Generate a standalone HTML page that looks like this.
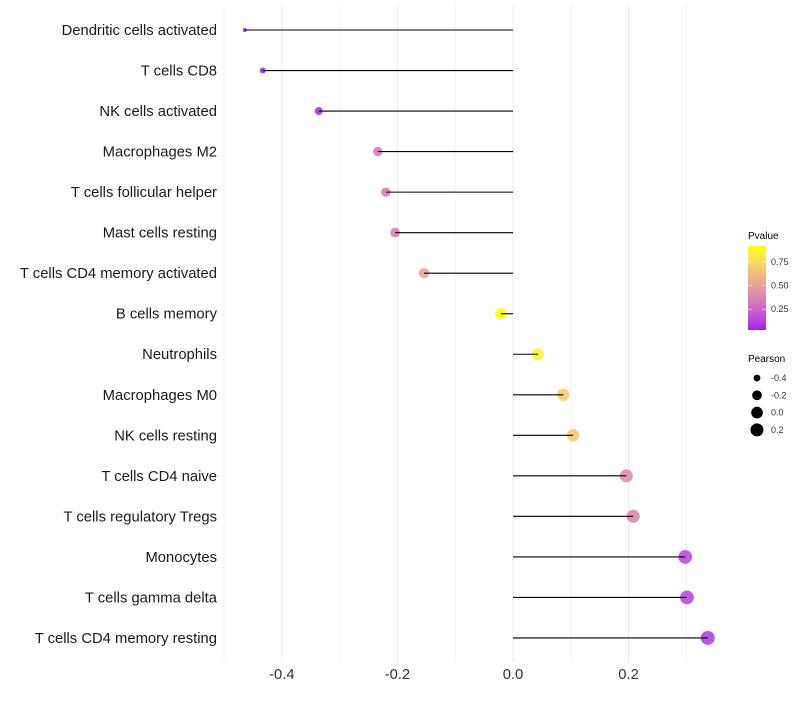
<!DOCTYPE html>
<html><head><meta charset="utf-8"><style>
body{margin:0;background:#fff;}
svg text{font-family:"Liberation Sans",sans-serif;}
</style></head><body>
<svg id="chart" width="800" height="700"></svg>
<script>
const categories=["Dendritic cells activated","T cells CD8","NK cells activated","Macrophages M2","T cells follicular helper","Mast cells resting","T cells CD4 memory activated","B cells memory","Neutrophils","Macrophages M0","NK cells resting","T cells CD4 naive","T cells regulatory  Tregs ","Monocytes","T cells gamma delta","T cells CD4 memory resting"];
const pearson=[-0.464,-0.433,-0.336,-0.234,-0.220,-0.204,-0.154,-0.021,0.043,0.087,0.104,0.196,0.208,0.298,0.301,0.337];
const pvalue=[0.03,0.05,0.08,0.35,0.36,0.36,0.52,0.92,0.86,0.70,0.68,0.42,0.40,0.16,0.15,0.12];
const xTicks=[-0.4,-0.2,0.0,0.2];
const xMinor=[-0.5,-0.3,-0.1,0.1,0.3];
const pTicks=[0.25,0.50,0.75];
const sizeLegend=[-0.4,-0.2,0.0,0.2];

const NS="http://www.w3.org/2000/svg";
const svg=document.getElementById('chart');
function mk(t,a,p){const e=document.createElementNS(NS,t);for(const k in a)e.setAttribute(k,a[k]);(p||svg).appendChild(e);return e;}
const x=v=>513+v*578;
const y=i=>30+i*40.53;
const rMin=Math.min(...pearson),rMax=Math.max(...pearson);
const rad=v=>2+5*Math.sqrt(Math.max(0,Math.min(1,(v-rMin)/(rMax-rMin))));
const pMin=Math.min(...pvalue),pMax=Math.max(...pvalue);
function toLab(r,g,b){[r,g,b]=[r,g,b].map(c=>{c/=255;return c<=0.04045?c/12.92:Math.pow((c+0.055)/1.055,2.4)});
let X=(r*0.4124+g*0.3576+b*0.1805)/0.95047,Y=r*0.2126+g*0.7152+b*0.0722,Z=(r*0.0193+g*0.1192+b*0.9505)/1.08883;
const f=t=>t>0.008856?Math.cbrt(t):7.787*t+16/116;return[116*f(Y)-16,500*(f(X)-f(Y)),200*(f(Y)-f(Z))];}
function fromLab(L,a,b){let Y=(L+16)/116,X=a/500+Y,Z=Y-b/200;const g=t=>t*t*t>0.008856?t*t*t:(t-16/116)/7.787;
X=g(X)*0.95047;Y=g(Y);Z=g(Z)*1.08883;let r=X*3.2406+Y*-1.5372+Z*-0.4986,gg=X*-0.9689+Y*1.8758+Z*0.0415,bb=X*0.0557+Y*-0.2040+Z*1.0570;
return 'rgb('+[r,gg,bb].map(c=>{c=c>0.0031308?1.055*Math.pow(c,1/2.4)-0.055:12.92*c;return Math.round(Math.max(0,Math.min(1,c))*255)}).join(',')+')';}
const lo=toLab(160,32,240),hi=toLab(255,255,0);
const col=p=>{const t=(p-pMin)/(pMax-pMin);return fromLab(lo[0]+(hi[0]-lo[0])*t,lo[1]+(hi[1]-lo[1])*t,lo[2]+(hi[2]-lo[2])*t);};

xMinor.forEach(v=>{const l=mk('line',{x1:x(v),x2:x(v),y1:5,y2:662,stroke:'#f2f2f2','stroke-width':1});});
xTicks.forEach(v=>{const l=mk('line',{x1:x(v),x2:x(v),y1:5,y2:662,stroke:'#ebebeb','stroke-width':1});
const t=mk('text',{x:x(v),y:679,'text-anchor':'middle','font-size':14.8,fill:'#333'});t.textContent=v.toFixed(1);});

categories.forEach((c,i)=>{
const t=mk('text',{x:217,y:y(i)+5,'text-anchor':'end','font-size':14.8,fill:'#1a1a1a'});t.textContent=c;
const d=mk('circle',{cx:x(pearson[i]),cy:y(i),r:rad(pearson[i]),fill:col(pvalue[i]),opacity:0.9});
const s=mk('line',{x1:x(0),x2:x(pearson[i]),y1:y(i),y2:y(i),stroke:'#000','stroke-width':1.1});
});

const lt=mk('text',{x:748,y:239,'font-size':10,fill:'#000'});lt.textContent='Pvalue';
const defs=mk('defs',{});const gr=mk('linearGradient',{id:'pg',x1:0,y1:1,x2:0,y2:0},defs);
for(let k=0;k<=10;k++){mk('stop',{offset:k/10,'stop-color':col(pMin+(pMax-pMin)*k/10)},gr);}
const by=p=>330-(p-pMin)/(pMax-pMin)*84;
const bar=mk('rect',{x:748,y:246,width:18,height:84,fill:'url(#pg)'});
pTicks.forEach(p=>{mk('line',{x1:748,x2:752,y1:by(p),y2:by(p),stroke:'#fff','stroke-width':0.6});mk('line',{x1:762,x2:766,y1:by(p),y2:by(p),stroke:'#fff','stroke-width':0.6});
const t=mk('text',{x:771,y:by(p)+3,'font-size':9,fill:'#333'});t.textContent=p.toFixed(2);});

const st=mk('text',{x:748,y:362,'font-size':10,fill:'#000'});st.textContent='Pearson';
sizeLegend.forEach((v,k)=>{const cy=378+k*17.3;const c=mk('circle',{cx:757,cy:cy,r:Math.min(rad(v),6.5),fill:'#000'});
const t=mk('text',{x:771,y:cy+3,'font-size':9,fill:'#333'});t.textContent=v.toFixed(1);});
</script>
</body></html>
